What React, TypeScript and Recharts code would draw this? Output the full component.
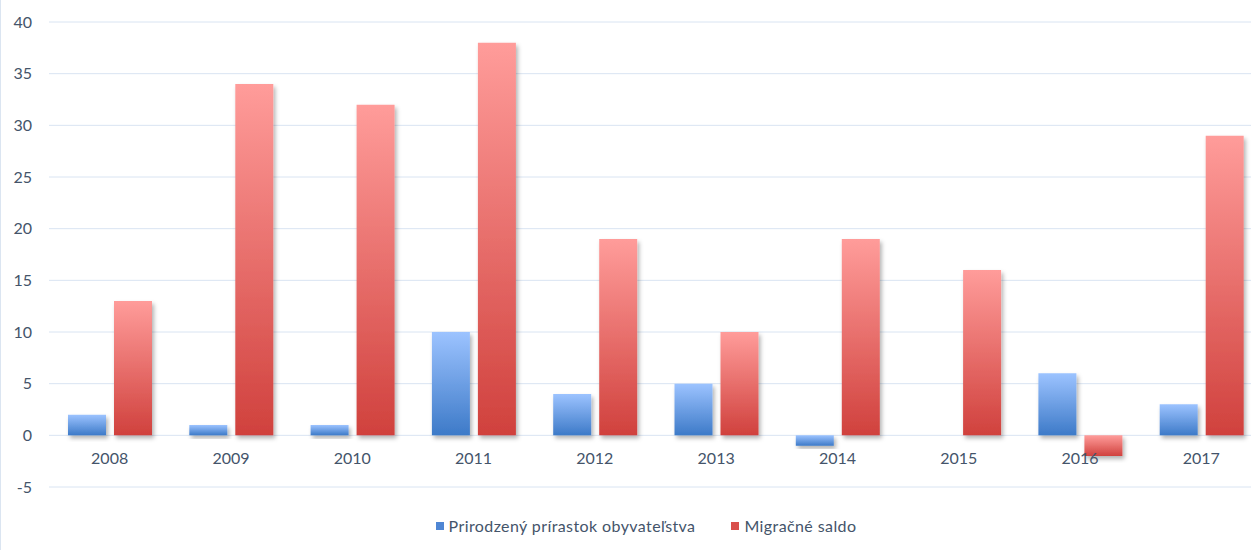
import React from "react";
import {
  BarChart,
  Bar,
  XAxis,
  YAxis,
  CartesianGrid,
  Legend,
  Rectangle,
} from "recharts";

const years = ["2008", "2009", "2010", "2011", "2012", "2013", "2014", "2015", "2016", "2017"];
const naturalGrowth = [2, 1, 1, 10, 4, 5, -1, 0, 6, 3];
const migration = [13, 34, 32, 38, 19, 10, 19, 16, -2, 29];
const yTicks = [-5, 0, 5, 10, 15, 20, 25, 30, 35, 40];

const data = years.map((year, i) => ({
  year,
  natural: naturalGrowth[i],
  migration: migration[i],
}));

const textColor = "#44546A";
const font = "Lato, 'Open Sans', sans-serif";

const ShadowBar = (props: any) => (
  <Rectangle {...props} filter="url(#barShadow)" />
);

const renderYearTick = ({ x, y, payload }: any) => (
  <text
    key={payload.value}
    x={x}
    y={y - 23}
    textAnchor="middle"
    fill={textColor}
    fontSize={16}
    fontFamily={font}
  >
    {payload.value}
  </text>
);

const CustomLegend = () => (
  <div
    style={{
      display: "flex",
      justifyContent: "center",
      paddingTop: 29,
      paddingLeft: 30,
      fontFamily: font,
      fontSize: 16,
      letterSpacing: 0.4,
      color: textColor,
      lineHeight: "18px",
    }}
  >
    <span style={{ display: "flex", alignItems: "center", marginRight: 36 }}>
      <span style={{ width: 8, height: 8, background: "#4f86d4", marginRight: 5 }} />
      Prirodzený prírastok obyvateľstva
    </span>
    <span style={{ display: "flex", alignItems: "center" }}>
      <span style={{ width: 8, height: 8, background: "#d9504c", marginRight: 5 }} />
      Migračné saldo
    </span>
  </div>
);

export default function App() {
  return (
    <div
      style={{
        position: "fixed",
        left: 0,
        top: 0,
        width: 1251,
        height: 550,
        overflow: "hidden",
        background: "#fff",
        borderLeft: "1px solid #dbe5f1",
        boxSizing: "border-box",
      }}
    >
      <BarChart
        width={1261}
        height={550}
        data={data}
        margin={{ top: 22, right: 0, bottom: 9, left: -1 }}
        barSize={38}
        barGap={8}
      >
        <defs>
          <linearGradient id="blueGrad" x1="0" y1="0" x2="0" y2="1">
            <stop offset="0%" stopColor="#9cc3ff" />
            <stop offset="100%" stopColor="#3d7ac8" />
          </linearGradient>
          <linearGradient id="redGrad" x1="0" y1="0" x2="0" y2="1">
            <stop offset="0%" stopColor="#ff9c9a" />
            <stop offset="100%" stopColor="#d0413d" />
          </linearGradient>
          <filter id="barShadow" x="-20%" y="-20%" width="150%" height="150%">
            <feDropShadow dx="2" dy="3" stdDeviation="2" floodColor="#000" floodOpacity="0.3" />
          </filter>
        </defs>
        <CartesianGrid vertical={false} stroke="#d9e4f2" />
        <XAxis
          dataKey="year"
          height={1}
          axisLine={false}
          tickLine={false}
          tickSize={0}
          tickMargin={0}
          tick={renderYearTick}
          interval={0}
        />
        <YAxis
          width={49}
          domain={[-5, 40]}
          ticks={yTicks}
          axisLine={false}
          tickLine={false}
          tickSize={0}
          tickMargin={17}
          tick={{ fill: textColor, fontSize: 16, fontFamily: font }}
        />
        <Legend
          verticalAlign="bottom"
          height={53}
          content={<CustomLegend />}
        />
        <Bar
          dataKey="natural"
          name="Prirodzený prírastok obyvateľstva"
          fill="url(#blueGrad)"
          shape={ShadowBar}
          isAnimationActive={false}
        />
        <Bar
          dataKey="migration"
          name="Migračné saldo"
          fill="url(#redGrad)"
          shape={ShadowBar}
          isAnimationActive={false}
        />
      </BarChart>
    </div>
  );
}
